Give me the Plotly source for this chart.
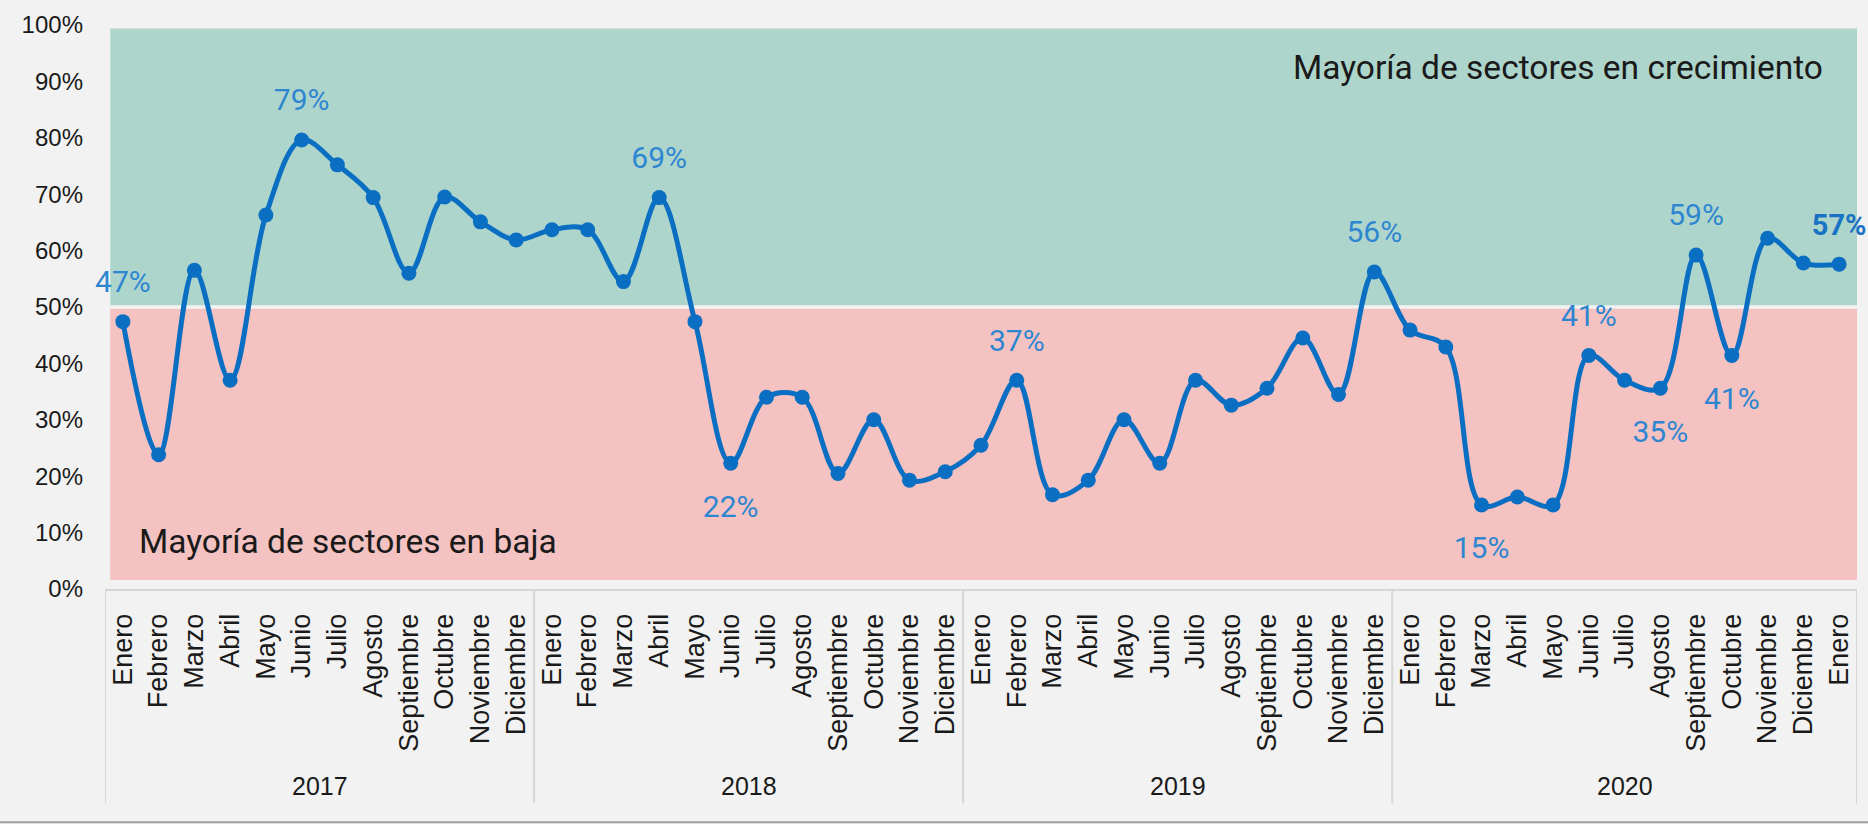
import plotly.graph_objects as go

years = ["2017"] * 12 + ["2018"] * 12 + ["2019"] * 12 + ["2020"] * 13
month_names = ["Enero", "Febrero", "Marzo", "Abril", "Mayo", "Junio", "Julio",
               "Agosto", "Septiembre", "Octubre", "Noviembre", "Diciembre"]
months = month_names * 4 + ["Enero"]

values = [
    47.4, 23.8, 56.5, 37.0, 66.3, 79.6, 75.2, 69.4, 56.0, 69.5, 65.1, 61.9,
    63.7, 63.7, 54.5, 69.4, 47.4, 22.3, 34.0, 34.0, 20.5, 30.0, 19.3, 20.8,
    25.5, 37.0, 16.7, 19.3, 30.0, 22.3, 37.0, 32.6, 35.6, 44.5, 34.5, 56.2,
    45.9, 42.9, 14.9, 16.3, 14.9, 41.4, 37.0, 35.6, 59.2, 41.4, 62.2, 57.8, 57.6,
]

# labelled points: index -> (text, above?)
point_labels = {
    0: ("47%", True), 5: ("79%", True), 15: ("69%", True), 17: ("22%", False),
    25: ("37%", True), 35: ("56%", True), 38: ("15%", False), 41: ("41%", True),
    43: ("35%", False), 44: ("59%", True), 45: ("41%", False), 48: ("<b>57%</b>", True),
}

y_ticks = list(range(0, 101, 10))
y_ticktext = [f"{v}%" for v in y_ticks]

LINE = "#0A6FC2"
LABEL = "#2E86D1"
BG = "#F2F2F2"
GRID = "#D6D6D6"

x = list(range(len(values)))
last = len(values) - 1

fig = go.Figure()

fig.add_trace(go.Scatter(
    x=x, y=values, mode="lines+markers",
    line=dict(color=LINE, width=5, shape="spline", smoothing=1.0),
    marker=dict(color=LINE, size=15),
    showlegend=False, hoverinfo="skip",
))

for above, msize in [(True, 34), (False, 48)]:
    idx = [i for i, (t, a) in point_labels.items() if a == above]
    fig.add_trace(go.Scatter(
        x=[x[i] for i in idx], y=[values[i] for i in idx], mode="markers+text",
        text=[point_labels[i][0] for i in idx],
        textposition="top center" if above else "bottom center",
        textfont=dict(family="Roboto",
                      size=[29 if i == last else 30 for i in idx],
                      color=["#1A72C4" if i == last else LABEL for i in idx]),
        marker=dict(color="rgba(0,0,0,0)", size=msize),
        cliponaxis=False, showlegend=False, hoverinfo="skip",
    ))

# background bands
fig.add_shape(type="rect", xref="paper", yref="y", x0=0.003, x1=1, y0=50.3, y1=99.4,
              fillcolor="#AED5CB", line_width=0, layer="below")
fig.add_shape(type="rect", xref="paper", yref="y", x0=0.003, x1=1, y0=1.6, y1=49.7,
              fillcolor="#F4C2C1", line_width=0, layer="below")

# year groups: dividers and centered labels
groups = []
for i, yr in enumerate(years):
    if not groups or groups[-1][0] != yr:
        groups.append([yr, i, i])
    else:
        groups[-1][2] = i
DIV_BOTTOM = -0.380
for yr, start, end in groups:
    fig.add_shape(type="line", xref="x", yref="paper", x0=start - 0.5, x1=start - 0.5,
                  y0=0, y1=DIV_BOTTOM, line=dict(color=GRID, width=2))
    fig.add_annotation(xref="x", yref="paper", x=(start + end) / 2, y=-0.349,
                       text=yr, showarrow=False, yanchor="middle",
                       font=dict(family="Liberation Sans, Arial", size=25, color="#1A1A1A"))
fig.add_shape(type="line", xref="x", yref="paper", x0=groups[-1][2] + 0.5, x1=groups[-1][2] + 0.5,
              y0=0, y1=DIV_BOTTOM, line=dict(color=GRID, width=2))

# bottom border line
fig.add_shape(type="line", xref="paper", yref="paper", x0=-0.07, x1=1.01, y0=-0.4135, y1=-0.4135,
              line=dict(color="#A0A0A0", width=2))

fig.add_annotation(xref="paper", yref="y", x=0.982, y=92.4, xanchor="right", yanchor="middle",
                   text="Mayoría de sectores en crecimiento", showarrow=False,
                   font=dict(family="Roboto", size=33.5, color="#1A1A1A"))
fig.add_annotation(xref="paper", yref="y", x=0.018, y=8.5, xanchor="left", yanchor="middle",
                   text="Mayoría de sectores en baja", showarrow=False,
                   font=dict(family="Roboto", size=33.5, color="#1A1A1A"))

fig.update_layout(
    width=1868, height=824,
    margin=dict(l=105, r=11, t=25, b=235),
    paper_bgcolor=BG, plot_bgcolor=BG,
    font=dict(family="Liberation Sans, Arial", color="#1A1A1A"),
)
fig.update_xaxes(
    range=[-0.5, len(values) - 0.5], autorange=False, automargin=False,
    tickmode="array", tickvals=x, ticktext=months, tickangle=-90,
    showgrid=False, zeroline=False,
    showline=True, linecolor=GRID, linewidth=2, ticks="",
    tickfont=dict(family="Liberation Sans, Arial", size=27, color="#1A1A1A"),
    ticklabelstandoff=12,
)
fig.update_yaxes(
    range=[0, 100], tickvals=y_ticks, ticktext=y_ticktext, automargin=False,
    showgrid=False, zeroline=False, showline=False,
    tickfont=dict(family="Liberation Sans, Arial", size=24, color="#1A1A1A"),
    ticklabelstandoff=21,
)

page_style = (
    "document.body.style.margin='0';"
    "document.body.style.overflow='hidden';"
    "document.body.style.background='#F2F2F2';"
)
fig.write_html("out.html", post_script=page_style, config={"displayModeBar": False})
